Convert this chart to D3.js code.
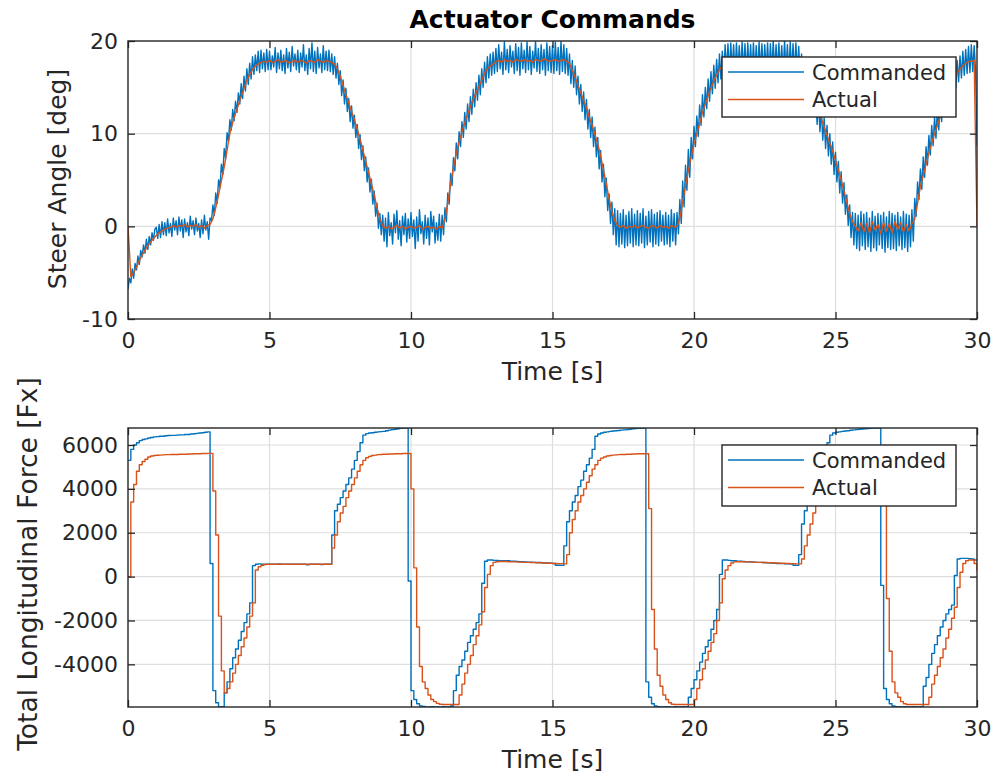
<!DOCTYPE html>
<html>
<head>
<meta charset="utf-8">
<script src="https://cdn.jsdelivr.net/npm/d3@7"></script>
<style>
    html, body { margin: 0; padding: 0; background: #ffffff; }
    svg { display: block; font-family: "DejaVu Sans", sans-serif; }
</style>
</head>
<body>
<div id="chart"></div>
<script>
const chartTitle = "Actuator Commands";
const timeLabel = "Time [s]";
const steerLabel = "Steer Angle [deg]";
const forceLabel = "Total Longitudinal Force [Fx]";
const seriesNames = ["Commanded", "Actual"];
const seriesColors = ["#0072BD", "#D95319"];

const timeLimits = [0, 30];
const timeTicks = [0, 5, 10, 15, 20, 25, 30];
const steerLimits = [-10, 20];
const steerTicks = [-10, 0, 10, 20];
const forceLimits = [-5945, 6775];
const forceTicks = [-4000, -2000, 0, 2000, 4000, 6000];

// sample spacing in seconds
const steerCommandedStep = 0.05;
const steerActualStep = 0.1;
const forceStep = 0.1;

// steer angle command, one row per second
const steerCommanded = [
    -6.8, -5.6, -6.1, -4.6, -5.6, -4.0, -4.7, -3.2, -4.1, -2.6, -3.3, -2.0, -2.9, -1.4, -2.5, -1.1, -2.0, -0.7, -1.5, -0.3,
    -0.1, -1.3, 0.2, -1.2, 0.5, -0.9, 0.4, -1.0, 0.8, -0.7, 0.3, -1.1, 0.9, -0.4, 0.6, -0.9, 1.0, -0.5, 0.7, -1.2,
    0.8, -0.6, 0.4, -1.0, 1.1, -0.3, 0.6, -0.9, 0.9, -0.5, 0.3, -1.2, 0.7, -0.8, 1.2, -0.4, 0.5, -1.4, 0.9, 0.6,
    2.3, 1.2, 3.6, 2.5, 5.0, 4.2, 6.7, 5.6, 8.4, 7.3, 10.1, 9.2, 11.5, 10.4, 12.6, 11.4, 13.5, 12.3, 14.4, 13.2,
    15.4, 13.8, 16.2, 14.6, 17.0, 15.3, 17.6, 15.9, 18.3, 16.4, 18.5, 16.8, 18.9, 16.6, 19.0, 17.0, 18.7, 16.7, 19.1, 16.9,
    18.9, 16.9, 18.4, 17.2, 19.3, 16.6, 18.7, 17.0, 19.0, 16.8, 18.5, 16.5, 19.2, 17.1, 18.8, 16.7, 19.4, 17.3, 18.6, 16.9,
    19.0, 16.6, 18.7, 17.2, 19.6, 16.8, 18.5, 16.4, 19.2, 17.0, 19.8, 16.7, 18.9, 16.5, 19.3, 17.1, 18.6, 16.6, 19.5, 16.9,
    18.9, 16.8, 19.0, 16.7, 18.6, 16.4, 18.3, 16.0, 17.6, 15.3, 16.8, 14.1, 15.8, 13.2, 14.9, 12.4, 13.8, 11.3, 13.0, 10.6,
    12.0, 9.6, 11.0, 8.4, 9.9, 7.2, 8.7, 6.0, 7.5, 4.8, 6.3, 3.7, 5.1, 2.4, 3.8, 1.1, 2.5, -0.2, 1.4, -0.9,
    1.2, -1.6, 0.9, -2.2, 1.5, -1.0, 0.4, -1.9, 1.3, -0.7, 1.7, -1.4, 0.6, -2.1, 1.1, -0.9, 1.4, -1.7, 0.8, -1.3,
    1.5, -1.1, 0.7, -2.4, 1.0, -1.6, 1.8, -0.8, 0.5, -1.9, 1.2, -1.3, 0.9, -2.0, 1.6, -0.6, 1.1, -1.8, 0.4, -1.5,
    1.3, -1.6, 1.2, -0.9, 2.0, 0.5, 3.6, 2.4, 5.7, 4.4, 7.4, 6.0, 9.0, 7.3, 10.2, 8.6, 11.3, 9.6, 12.3, 10.5,
    13.2, 11.3, 14.0, 12.1, 14.8, 12.9, 15.5, 13.6, 16.3, 14.2, 17.0, 15.0, 17.7, 15.5, 18.3, 16.0, 18.6, 16.3, 18.8, 16.5,
    19.2, 16.7, 19.6, 17.0, 18.8, 16.4, 19.9, 16.9, 19.1, 16.6, 19.5, 17.2, 18.9, 16.5, 19.7, 16.8, 19.3, 16.3, 19.8, 17.0,
    19.0, 16.6, 19.9, 16.9, 19.4, 16.4, 18.9, 17.1, 20.0, 16.7, 19.2, 16.5, 19.6, 16.9, 19.1, 16.3, 19.8, 16.8, 19.4, 16.6,
    19.5, 16.5, 19.9, 16.8, 19.3, 16.4, 20.0, 16.7, 19.6, 16.5, 19.2, 16.3, 18.6, 15.4, 17.9, 15.0, 17.3, 14.2, 16.2, 13.2,
    15.3, 12.4, 14.5, 11.5, 13.7, 10.5, 12.6, 9.6, 11.8, 8.6, 10.7, 7.5, 9.6, 6.2, 8.2, 4.8, 6.7, 3.2, 5.2, 1.7,
    3.5, 0.3, 2.6, -0.9, 1.9, -2.0, 1.7, -2.2, 1.4, -1.9, 1.8, -2.3, 1.2, -2.1, 1.6, -1.8, 1.9, -2.2, 1.3, -2.0,
    1.7, -2.1, 1.4, -1.8, 1.9, -2.3, 1.1, -2.0, 1.6, -1.7, 1.8, -2.2, 1.3, -1.9, 1.5, -2.1, 1.7, -1.6, 1.2, -2.0,
    1.5, -1.9, 1.2, -2.2, 1.8, -1.6, 1.4, -2.0, 1.5, -0.8, 2.9, 0.3, 4.9, 2.1, 6.6, 3.9, 8.3, 5.3, 9.6, 7.3,
    10.8, 8.6, 11.9, 9.7, 13.1, 10.9, 14.2, 11.8, 15.0, 12.7, 15.9, 13.5, 16.7, 14.3, 17.4, 14.9, 18.0, 15.5, 18.6, 15.9,
    18.9, 16.4, 19.6, 16.6, 19.7, 16.5, 19.8, 16.8, 19.6, 16.4, 19.8, 16.7, 19.5, 16.5, 19.9, 16.6, 19.7, 16.4, 19.8, 16.7,
    19.6, 16.5, 19.8, 16.6, 19.5, 16.4, 19.9, 16.7, 19.7, 16.5, 19.6, 16.8, 19.8, 16.4, 19.7, 16.6, 20.0, 16.5, 19.6, 16.7,
    19.8, 16.6, 19.5, 16.4, 20.0, 16.7, 19.6, 16.5, 19.9, 16.6, 19.7, 16.3, 19.8, 16.5, 19.4, 16.0, 18.6, 15.5, 17.9, 14.8,
    17.1, 14.0, 16.3, 12.9, 15.4, 12.1, 14.5, 11.0, 13.6, 10.2, 12.7, 9.3, 11.7, 8.4, 10.9, 7.6, 10.0, 6.7, 9.1, 5.6,
    8.0, 4.8, 7.0, 3.6, 5.9, 2.5, 4.7, 1.3, 3.4, 0.1, 2.3, -1.2, 1.5, -2.0, 1.4, -2.4, 1.2, -2.6, 1.6, -2.1,
    1.3, -2.5, 1.5, -2.2, 0.9, -2.7, 1.6, -2.3, 1.1, -2.6, 1.4, -2.0, 1.2, -2.4, 1.5, -2.8, 1.0, -2.3, 1.6, -2.5,
    1.4, -2.4, 1.2, -2.6, 1.5, -2.1, 1.0, -2.5, 1.6, -2.3, 1.3, -2.7, 1.2, -2.2, 1.8, -1.6, 3.0, 1.1, 4.8, 2.9,
    6.2, 4.0, 7.5, 5.3, 8.6, 6.6, 9.8, 7.7, 10.9, 8.7, 11.8, 9.5, 12.7, 10.4, 13.6, 11.3, 14.5, 12.2, 15.4, 13.0,
    16.2, 13.7, 16.6, 14.2, 17.5, 14.9, 17.9, 15.6, 18.4, 16.0, 18.9, 16.3, 19.1, 16.5, 19.4, 16.6, 19.6, 16.7, 19.5, 16.8,
    8.7
];

// steer angle measured
const steerActual = [
    0, -5.4, -5.0, -4.4, -3.7, -3.1, -2.6, -2.1, -1.7, -1.3,
    -1.0, -0.7, -0.5, -0.3, -0.2, -0.1, 0.1, -0.1, 0.1, 0.0,
    0.2, -0.1, 0.1, 0.0, 0.2, -0.1, 0.1, -0.2, 0.1, 0.2,
    0.8, 2.0, 3.4, 4.9, 6.4, 8.2, 10.0, 11.2, 12.2, 13.1,
    14.0, 14.9, 15.7, 16.4, 16.9, 17.3, 17.5, 17.7, 17.8, 17.7,
    17.9, 17.7, 17.8, 18.0, 17.7, 17.8, 17.9, 17.6, 17.8, 17.9,
    17.7, 17.9, 17.8, 17.6, 17.9, 17.8, 17.7, 18.0, 17.8, 17.7,
    17.9, 17.8, 17.7, 17.5, 17.0, 16.2, 15.2, 14.2, 13.3, 12.4,
    11.5, 10.5, 9.4, 8.2, 7.0, 5.8, 4.6, 3.4, 2.0, 0.8,
    0.1, -0.2, 0.0, -0.3, -0.1, 0.1, -0.2, 0.0, -0.3, -0.1,
    0.0, -0.2, -0.1, 0.1, -0.3, -0.1, 0.0, -0.2, -0.1, -0.3,
    0.0, -0.2, 0.8, 2.5, 4.6, 6.3, 7.9, 9.1, 10.2, 11.2,
    12.1, 12.9, 13.7, 14.4, 15.1, 15.8, 16.5, 17.0, 17.3, 17.5,
    17.8, 17.9, 17.7, 18.0, 17.8, 17.9, 17.7, 18.0, 17.9, 17.8,
    18.0, 17.8, 17.9, 17.7, 18.0, 17.9, 17.8, 18.1, 17.9, 17.8,
    17.9, 18.0, 17.8, 17.9, 18.0, 17.8, 17.6, 16.8, 16.1, 15.2,
    14.4, 13.6, 12.8, 11.8, 10.9, 9.9, 8.9, 7.6, 6.1, 4.6,
    3.0, 1.6, 0.6, 0.1, -0.1, 0.1, -0.2, 0.0, -0.1, 0.1,
    -0.2, 0.0, 0.1, -0.1, -0.2, 0.1, 0.0, -0.2, 0.1, -0.1,
    0.0, -0.2, 0.1, -0.1, 0.0, 0.9, 2.6, 4.4, 6.0, 7.5,
    8.9, 10.0, 11.1, 12.3, 13.2, 14.1, 14.9, 15.7, 16.3, 16.9,
    17.3, 17.6, 17.8, 17.9, 17.7, 18.0, 17.8, 17.9, 17.7, 17.9,
    17.8, 18.0, 17.7, 17.9, 17.8, 18.0, 17.7, 17.9, 17.8, 17.9,
    17.7, 18.0, 17.8, 17.9, 17.7, 17.9, 17.8, 17.6, 17.5, 16.9,
    16.1, 15.2, 14.3, 13.4, 12.5, 11.6, 10.7, 9.8, 9.0, 8.1,
    7.1, 6.1, 5.0, 3.8, 2.6, 1.4, 0.5, 0.0, -0.5, 0.4,
    -0.6, 0.3, -0.7, 0.5, -0.4, 0.2, -0.8, 0.4, -0.5, 0.3,
    -0.7, 0.5, -0.3, 0.4, -0.6, 0.2, -0.5, 0.3, 0.8, 2.5,
    4.3, 5.5, 6.7, 7.9, 9.0, 10.0, 10.9, 11.8, 12.7, 13.6,
    14.4, 15.2, 15.9, 16.5, 17.0, 17.3, 17.6, 17.8, 17.8, 17.9,
    0
];

// longitudinal force command
const forceCommanded = [
    5300, 5800, 6000, 6100, 6200, 6250, 6280, 6320, 6340, 6370,
    6380, 6400, 6400, 6420, 6430, 6440, 6440, 6450, 6460, 6460,
    6480, 6480, 6500, 6510, 6530, 6550, 6560, 6580, 6600, 600,
    -5200, -5750, -5940, -5930, -5300, -4800, -4200, -3700, -3300, -2900,
    -2500, -2100, -1700, -1200, 500, 560, 580, 560, 570, 560,
    570, 560, 560, 580, 560, 570, 560, 560, 570, 560,
    560, 570, 560, 540, 560, 560, 570, 560, 550, 560,
    560, 560, 1900, 3000, 3300, 3600, 3900, 4200, 4500, 4900,
    5300, 5700, 6100, 6450, 6520, 6550, 6560, 6580, 6600, 6610,
    6620, 6650, 6680, 6700, 6720, 6740, 6760, 6770, 6770, -200,
    -5200, -5600, -5800, -5900, -5920, -5940, -5940, -5930, -5940, -5940,
    -5940, -5930, -5940, -5940, -5900, -5200, -4500, -4100, -3800, -3400,
    -3000, -2700, -2400, -2100, -1700, -300, 700, 760, 760, 740,
    740, 730, 730, 720, 720, 700, 700, 690, 680, 680,
    670, 660, 660, 650, 640, 640, 630, 620, 620, 610,
    600, 520, 520, 510, 1400, 2500, 3000, 3400, 3700, 4100,
    4400, 4800, 5100, 5400, 5800, 6400, 6500, 6550, 6580, 6600,
    6620, 6640, 6650, 6660, 6680, 6690, 6700, 6720, 6740, 6750,
    6760, 6770, 6770, -4800, -5500, -5800, -5900, -5930, -5940, -5940,
    -5930, -5940, -5940, -5930, -5940, -5940, -5930, -5940, -5500, -5100,
    -4700, -4300, -3900, -3500, -3200, -2900, -2400, -2000, -1500, 100,
    760, 760, 740, 720, 720, 700, 700, 690, 680, 680,
    670, 660, 650, 650, 640, 630, 630, 620, 610, 600,
    600, 590, 580, 580, 570, 520, 510, 1000, 2400, 3000,
    3400, 3700, 4100, 4500, 4900, 5300, 5700, 6100, 6450, 6550,
    6580, 6600, 6620, 6640, 6650, 6670, 6690, 6700, 6720, 6730,
    6740, 6750, 6760, 6770, 6770, 6770, -400, -5100, -5600, -5800,
    -5900, -5930, -5940, -5940, -5930, -5940, -5940, -5930, -5940, -5940,
    -5930, -5000, -4600, -4000, -3500, -3100, -2700, -2300, -2000, -1700,
    -1500, -1300, 50, 800, 830, 830, 830, 820, 800, 760,
    760
];

// longitudinal force measured
const forceActual = [
    0, 3400, 4200, 4800, 5100, 5250, 5350, 5450, 5500, 5520,
    5530, 5540, 5550, 5560, 5560, 5570, 5570, 5570, 5580, 5580,
    5580, 5590, 5590, 5600, 5600, 5600, 5610, 5610, 5620, 5620,
    3900, 1900, -1800, -4300, -5300, -5100, -4800, -4400, -4000, -3600,
    -3200, -2800, -2300, -1800, -1200, 300, 450, 520, 550, 560,
    560, 560, 560, 560, 560, 560, 560, 560, 560, 560,
    560, 560, 560, 560, 560, 560, 560, 560, 560, 560,
    560, 560, 1300, 1900, 2500, 2900, 3200, 3600, 3900, 4200,
    4500, 4800, 5100, 5300, 5420, 5480, 5520, 5540, 5560, 5570,
    5580, 5580, 5590, 5590, 5600, 5600, 5600, 5610, 5610, 5610,
    4000, 400, -2300, -4100, -4800, -5100, -5400, -5600, -5700, -5780,
    -5820, -5830, -5830, -5830, -5830, -5830, -5830, -5400, -4900, -4400,
    -4000, -3600, -3100, -2700, -2200, -1600, -500, 100, 500, 650,
    680, 690, 690, 690, 680, 680, 670, 670, 660, 660,
    650, 650, 640, 640, 630, 630, 620, 620, 610, 610,
    600, 600, 590, 590, 580, 1000, 2000, 2600, 3000, 3400,
    3700, 4000, 4300, 4600, 4900, 5100, 5300, 5400, 5450, 5500,
    5520, 5540, 5550, 5560, 5570, 5570, 5580, 5580, 5590, 5590,
    5600, 5600, 5600, 5600, 3100, -1500, -3300, -4500, -5000, -5400,
    -5600, -5750, -5820, -5830, -5830, -5830, -5830, -5830, -5830, -5830,
    -5600, -5100, -4700, -4200, -3800, -3400, -3000, -2600, -2000, -1200,
    -100, 300, 500, 620, 670, 680, 680, 680, 670, 670,
    660, 660, 650, 650, 640, 640, 630, 630, 620, 620,
    610, 610, 600, 600, 590, 590, 580, 580, 800, 1400,
    1900, 2400, 2900, 3300, 3700, 4100, 4500, 4900, 5200, 5350,
    5450, 5500, 5530, 5550, 5560, 5570, 5580, 5580, 5590, 5590,
    5600, 5600, 5600, 5600, 5600, 5610, 5610, 5610, -1000, -3400,
    -4800, -5300, -5500, -5700, -5800, -5830, -5830, -5830, -5830, -5830,
    -5830, -5830, -5830, -5500, -4900, -4500, -4100, -3700, -3300, -2800,
    -2400, -1900, -1400, -500, 200, 600, 720, 760, 760, 600,
    250
];

const layout = {
    width: 995,
    height: 776,
    left: 128,
    right: 977,
    tickSize: 7,
    tickFont: 22,
    labelFont: 25,
    legendFont: 21,
    axisColor: "#262626",
    gridColor: "#dedede"
};

const panels = [
    {
        id: "steer",
        top: 41,
        bottom: 319,
        yLimits: steerLimits,
        yTicks: steerTicks,
        yLabel: steerLabel,
        yLabelX: 66,
        yLabelY: 179,
        yLabelFont: 25,
        series: [
            { values: steerCommanded, step: steerCommandedStep, curve: d3.curveLinear },
            { values: steerActual, step: steerActualStep, curve: d3.curveLinear }
        ],
        legend: { x: 722, y: 57, w: 234, h: 60 }
    },
    {
        id: "force",
        top: 428,
        bottom: 707,
        yLimits: forceLimits,
        yTicks: forceTicks,
        yLabel: forceLabel,
        yLabelX: 37,
        yLabelY: 564,
        yLabelFont: 26.5,
        series: [
            { values: forceCommanded, step: forceStep, curve: d3.curveStepAfter },
            { values: forceActual, step: forceStep, curve: d3.curveStepAfter }
        ],
        legend: { x: 722, y: 445, w: 234, h: 61 }
    }
];

function init() {
    const svg = d3.select("#chart").append("svg")
        .attr("width", layout.width)
        .attr("height", layout.height);

    svg.append("rect")
        .attr("width", layout.width)
        .attr("height", layout.height)
        .attr("fill", "#ffffff");

    svg.append("text")
        .attr("x", (layout.left + layout.right) / 2)
        .attr("y", 28)
        .attr("text-anchor", "middle")
        .attr("font-size", layout.labelFont)
        .attr("font-weight", "bold")
        .attr("fill", "#000000")
        .text(chartTitle);

    panels.forEach(panel => drawPanel(svg, panel));
}

function drawPanel(svg, panel) {
    const x = d3.scaleLinear()
        .domain(timeLimits)
        .range([layout.left, layout.right]);

    const y = d3.scaleLinear()
        .domain(panel.yLimits)
        .range([panel.bottom, panel.top]);

    const g = svg.append("g").attr("class", panel.id);

    // grid
    const grid = g.append("g")
        .attr("stroke", layout.gridColor)
        .attr("stroke-width", 1.2);

    grid.selectAll("line.gx")
        .data(timeTicks.slice(1, -1))
        .join("line")
        .attr("class", "gx")
        .attr("x1", d => x(d)).attr("x2", d => x(d))
        .attr("y1", panel.top).attr("y2", panel.bottom);

    grid.selectAll("line.gy")
        .data(panel.yTicks.filter(d => y(d) > panel.top + 1 && y(d) < panel.bottom - 1))
        .join("line")
        .attr("class", "gy")
        .attr("x1", layout.left).attr("x2", layout.right)
        .attr("y1", d => y(d)).attr("y2", d => y(d));

    // data lines
    const clipId = "clip-" + panel.id;
    g.append("clipPath")
        .attr("id", clipId)
        .append("rect")
        .attr("x", layout.left)
        .attr("y", panel.top)
        .attr("width", layout.right - layout.left)
        .attr("height", panel.bottom - panel.top);

    const lineGroup = g.append("g").attr("clip-path", `url(#${clipId})`);

    panel.series.forEach((s, index) => {
        const line = d3.line()
            .x((d, i) => x(i * s.step))
            .y(d => y(d))
            .curve(s.curve);

        lineGroup.append("path")
            .datum(s.values)
            .attr("fill", "none")
            .attr("stroke", seriesColors[index])
            .attr("stroke-width", 1.4)
            .attr("stroke-linejoin", "round")
            .attr("d", line);
    });

    // axes with inward ticks on all four sides
    const fmt = d => String(d);

    const bottomAxis = g.append("g")
        .attr("transform", `translate(0, ${panel.bottom})`)
        .call(d3.axisBottom(x).tickValues(timeTicks).tickFormat(fmt)
            .tickSizeInner(-layout.tickSize).tickSizeOuter(0).tickPadding(13));

    const topAxis = g.append("g")
        .attr("transform", `translate(0, ${panel.top})`)
        .call(d3.axisTop(x).tickValues(timeTicks).tickFormat("")
            .tickSizeInner(-layout.tickSize).tickSizeOuter(0));

    const leftAxis = g.append("g")
        .attr("transform", `translate(${layout.left}, 0)`)
        .call(d3.axisLeft(y).tickValues(panel.yTicks).tickFormat(fmt)
            .tickSizeInner(-layout.tickSize).tickSizeOuter(0).tickPadding(10));

    const rightAxis = g.append("g")
        .attr("transform", `translate(${layout.right}, 0)`)
        .call(d3.axisRight(y).tickValues(panel.yTicks).tickFormat("")
            .tickSizeInner(-layout.tickSize).tickSizeOuter(0));

    [bottomAxis, topAxis, leftAxis, rightAxis].forEach(axis => {
        axis.select(".domain").remove();
        axis.selectAll(".tick line")
            .attr("stroke", layout.axisColor)
            .attr("stroke-width", 1.3);
        axis.selectAll(".tick text")
            .attr("fill", layout.axisColor)
            .attr("font-size", layout.tickFont)
            .attr("font-family", "DejaVu Sans");
    });

    g.append("rect")
        .attr("x", layout.left)
        .attr("y", panel.top)
        .attr("width", layout.right - layout.left)
        .attr("height", panel.bottom - panel.top)
        .attr("fill", "none")
        .attr("stroke", layout.axisColor)
        .attr("stroke-width", 1.4);

    // axis labels
    g.append("text")
        .attr("x", (layout.left + layout.right) / 2)
        .attr("y", panel.bottom + 61)
        .attr("text-anchor", "middle")
        .attr("font-size", layout.labelFont)
        .attr("fill", layout.axisColor)
        .text(timeLabel);

    g.append("text")
        .attr("transform", `translate(${panel.yLabelX}, ${panel.yLabelY}) rotate(-90)`)
        .attr("text-anchor", "middle")
        .attr("font-size", panel.yLabelFont)
        .attr("fill", layout.axisColor)
        .text(panel.yLabel);

    drawLegend(g, panel.legend);
}

function drawLegend(g, box) {
    const legend = g.append("g")
        .attr("transform", `translate(${box.x}, ${box.y})`);

    legend.append("rect")
        .attr("width", box.w)
        .attr("height", box.h)
        .attr("fill", "#ffffff")
        .attr("stroke", layout.axisColor)
        .attr("stroke-width", 1.4);

    seriesNames.forEach((name, index) => {
        const rowY = 15 + index * 27.5;

        legend.append("line")
            .attr("x1", 6).attr("x2", 82)
            .attr("y1", rowY).attr("y2", rowY)
            .attr("stroke", seriesColors[index])
            .attr("stroke-width", 1.4);

        legend.append("text")
            .attr("x", 90)
            .attr("y", rowY)
            .attr("dy", "0.36em")
            .attr("font-size", layout.legendFont)
            .attr("fill", layout.axisColor)
            .text(name);
    });
}

init();
</script>
</body>
</html>
